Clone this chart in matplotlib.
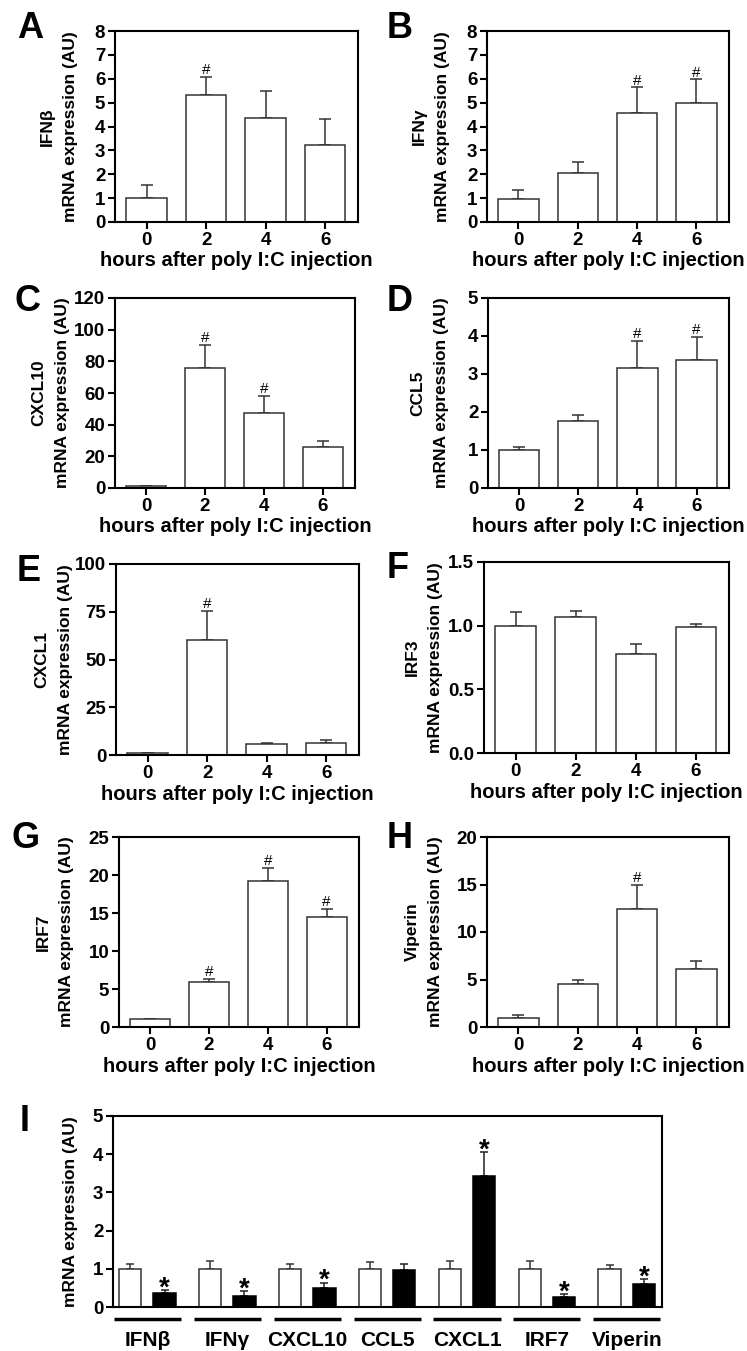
import matplotlib
matplotlib.use('Agg')
import matplotlib.pyplot as plt
import numpy as np

plt.rcParams['font.family'] = ['Liberation Sans', 'DejaVu Sans']
plt.rcParams['font.weight'] = 'bold'

hours = ['0', '2', '4', '6']

# time course panels (A-H)
ifnb = [1.0, 5.31, 4.34, 3.21]
ifnb_err = [0.57, 0.77, 1.14, 1.10]
ifnb_sig = [False, True, False, False]

ifng = [0.97, 2.05, 4.56, 4.97]
ifng_err = [0.35, 0.47, 1.08, 1.0]
ifng_sig = [False, False, True, True]

cxcl10 = [1.0, 75.5, 47.5, 26.0]
cxcl10_err = [0.3, 15.0, 10.5, 4.0]
cxcl10_sig = [False, True, True, False]

ccl5 = [1.0, 1.76, 3.17, 3.37]
ccl5_err = [0.07, 0.17, 0.71, 0.6]
ccl5_sig = [False, False, True, True]

cxcl1 = [1.0, 60.3, 5.8, 6.5]
cxcl1_err = [0.2, 15.1, 0.7, 1.6]
cxcl1_sig = [False, True, False, False]

irf3 = [1.0, 1.066, 0.779, 0.992]
irf3_err = [0.105, 0.047, 0.074, 0.021]
irf3_sig = [False, False, False, False]

irf7 = [1.0, 5.9, 19.2, 14.5]
irf7_err = [0.08, 0.45, 1.75, 1.0]
irf7_sig = [False, True, True, True]

viperin = [1.0, 4.56, 12.46, 6.15]
viperin_err = [0.3, 0.4, 2.52, 0.83]
viperin_sig = [False, False, True, False]

# panel I
genes = ['IFNβ', 'IFNγ', 'CXCL10', 'CCL5', 'CXCL1', 'IRF7', 'Viperin']
ctrl = [1, 1, 1, 1, 1, 1, 1]
ctrl_err = [0.13, 0.21, 0.13, 0.18, 0.20, 0.20, 0.11]
treat = [0.36, 0.30, 0.51, 0.96, 3.42, 0.27, 0.60]
treat_err = [0.09, 0.12, 0.13, 0.16, 0.63, 0.07, 0.13]
stars = [True, True, True, False, True, True, True]

W, H = 747, 1351
fig = plt.figure(figsize=(W / 100, H / 100), dpi=100)


def box(l, t, r, b):
    return [l / W, 1 - b / H, (r - l) / W, (b - t) / H]


def style(ax):
    for s in ax.spines.values():
        s.set_linewidth(1.5)
    ax.tick_params(direction='out', length=5, width=1.5, labelsize=13.5, pad=2)
    for lab in ax.get_xticklabels() + ax.get_yticklabels():
        lab.set_fontweight('bold')


# letter, gene, values, errors, significance, ymax, yticks, axes box (px), ylabel offset, letter pos (px)
panels = [
    ('A', 'IFNβ', ifnb, ifnb_err, ifnb_sig, 8, np.arange(0, 9, 1), (115, 31, 358, 222), 37, (17, 11)),
    ('B', 'IFNγ', ifng, ifng_err, ifng_sig, 8, np.arange(0, 9, 1), (487, 31, 729, 222), 37, (387, 11)),
    ('C', 'CXCL10', cxcl10, cxcl10_err, cxcl10_sig, 120, np.arange(0, 121, 20), (115, 298, 355, 488), 45, (15, 284)),
    ('D', 'CCL5', ccl5, ccl5_err, ccl5_sig, 5, np.arange(0, 6, 1), (488, 298, 729, 488), 39, (387, 284)),
    ('E', 'CXCL1', cxcl1, cxcl1_err, cxcl1_sig, 100, np.arange(0, 101, 25), (116, 564, 359, 755), 43, (17, 554)),
    ('F', 'IRF3', irf3, irf3_err, irf3_sig, 1.5, np.arange(0, 1.6, 0.5), (484, 562, 729, 753), 41, (387, 551)),
    ('G', 'IRF7', irf7, irf7_err, irf7_sig, 25, np.arange(0, 26, 5), (119, 837, 359, 1027), 45, (12, 821)),
    ('H', 'Viperin', viperin, viperin_err, viperin_sig, 20, np.arange(0, 21, 5), (487, 837, 729, 1027), 44, (387, 821)),
]

for letter, gene, vals, errs, sig, ymax, yt, pbox, yoff, lpos in panels:
    ax = fig.add_axes(box(*pbox))
    wpx = pbox[2] - pbox[0]
    x = np.arange(len(hours))
    ax.bar(x, vals, width=0.68, color='white', edgecolor='#333333', linewidth=1.1, zorder=2)
    ax.errorbar(x, vals, yerr=[np.zeros(len(vals)), errs], fmt='none', ecolor='#333333',
                elinewidth=1.1, capsize=4, capthick=1.1, zorder=1)
    for xi, v, e, s in zip(x, vals, errs, sig):
        if s:
            ax.annotate('#', (xi, v + e), xytext=(0, 2), textcoords='offset points',
                        ha='center', va='baseline', fontsize=11, fontweight='normal')
    ax.set_xlim(-0.53, 3.55)
    ax.set_ylim(0, ymax)
    ax.set_xticks(x)
    ax.set_xticklabels(hours)
    ax.set_yticks(yt)
    if letter == 'F':
        ax.set_yticklabels(['%.1f' % t for t in yt])
    style(ax)
    ax.set_xlabel('hours after poly I:C injection', fontsize=14.5, fontweight='bold', labelpad=2)
    ax.set_ylabel('mRNA expression (AU)', fontsize=12.5, fontweight='bold')
    ax.yaxis.set_label_coords(-yoff / wpx, 0.5)
    # gene name as the first line of the y label
    ax.text(-(yoff + 31) / wpx, 0.5, gene, transform=ax.transAxes, rotation=90,
            ha='center', va='center', fontsize=12.5, fontweight='bold')
    fig.text(lpos[0] / W, 1 - lpos[1] / H, letter, fontsize=26, fontweight='bold',
             ha='left', va='top')

# panel I
axi = fig.add_axes(box(113, 1116, 662, 1307))
g = np.arange(len(genes))
off = 0.215
bw = 0.28
axi.bar(g - off, ctrl, width=bw, color='white', edgecolor='#333333', linewidth=1.1, zorder=2)
axi.bar(g + off, treat, width=bw, color='black', edgecolor='black', linewidth=1.1, zorder=2)
axi.errorbar(g - off, ctrl, yerr=[np.zeros(len(g)), ctrl_err], fmt='none', ecolor='#333333',
             elinewidth=1.1, capsize=3, capthick=1.1, zorder=1)
axi.errorbar(g + off, treat, yerr=[np.zeros(len(g)), treat_err], fmt='none', ecolor='#222222',
             elinewidth=1.1, capsize=3, capthick=1.1, zorder=1)
for gi, v, e, s in zip(g, treat, treat_err, stars):
    if s:
        axi.annotate('*', (gi + off, v + e), xytext=(0, -4), textcoords='offset points',
                     ha='center', va='baseline', fontsize=20, fontweight='bold')
axi.set_xlim(-0.43, 6.44)
axi.set_ylim(0, 5)
axi.set_yticks(np.arange(0, 6, 1))
axi.set_xticks(g)
axi.set_xticklabels(genes)
style(axi)
axi.tick_params(axis='x', length=0, pad=17, labelsize=15)
trans = axi.get_xaxis_transform()
for gi in g:
    axi.plot([gi - 0.42, gi + 0.42], [-0.063, -0.063], color='black', lw=2.5,
             transform=trans, clip_on=False, solid_capstyle='butt')
axi.set_ylabel('mRNA expression (AU)', fontsize=12.5, fontweight='bold')
axi.yaxis.set_label_coords(-35 / 549, 0.5)
fig.text(20 / W, 1 - 1104 / H, 'I', fontsize=26, fontweight='bold', ha='left', va='top')

fig.savefig('out.png', dpi=100)
